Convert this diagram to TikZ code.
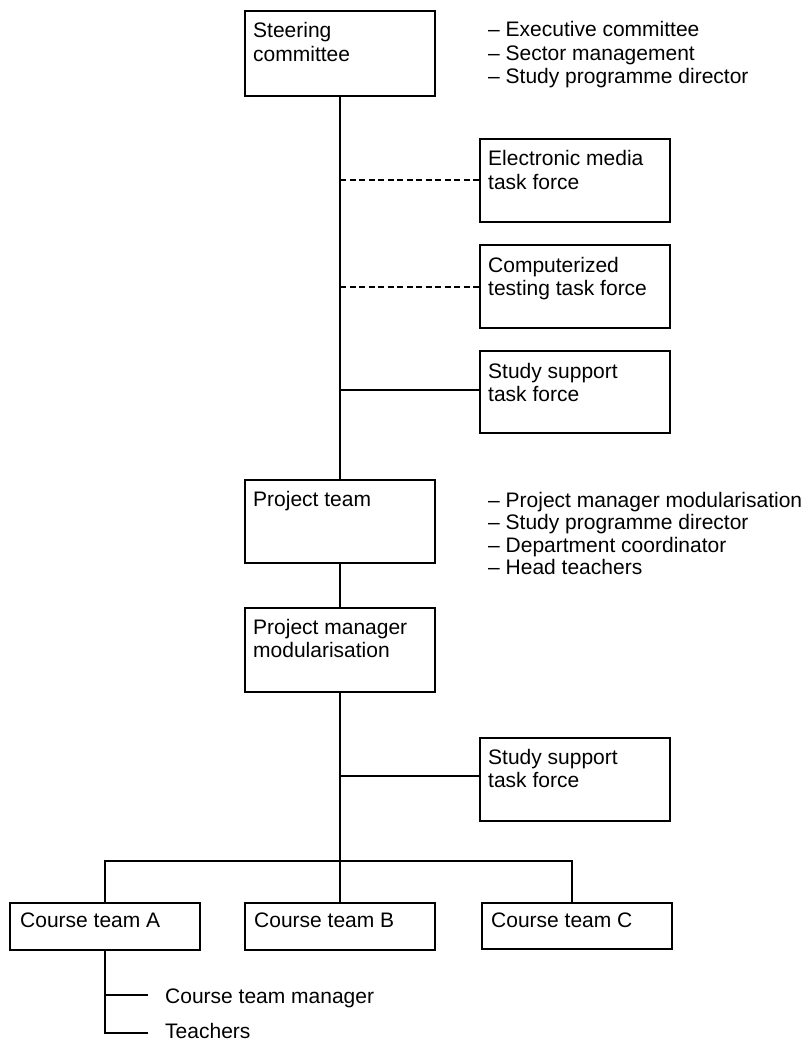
\documentclass[tikz,border=0pt]{standalone}
\usepackage{fontspec}
\setmainfont{Liberation Sans}
% stacked lines whose baseline is that of the first line
\newcommand\linesof[1]{\vtop{\halign{##\hfil\cr#1\crcr}}}
\begin{document}
\begin{tikzpicture}[x=1pt,y=-1pt,
  box/.style={draw, line width=2pt, inner sep=0pt, outer sep=0pt, anchor=north west},
  lbl/.style={anchor=base west, inner sep=0pt, font=\fontsize{21}{23.5}\selectfont},
  link/.style={line width=2pt},
  weak/.style={line width=2pt, dash pattern=on 6pt off 3.5pt}]
\useasboundingbox (0,0) rectangle (811,1051);

% organisation boxes
\node[box, minimum width=190pt, minimum height=85pt] (steer) at (245,11) {};
\node[box, minimum width=190pt, minimum height=83pt] (elec)  at (480,139) {};
\node[box, minimum width=190pt, minimum height=83pt] (comp)  at (480,245) {};
\node[box, minimum width=190pt, minimum height=82pt] (supA)  at (480,351) {};
\node[box, minimum width=190pt, minimum height=83pt] (pteam) at (245,480) {};
\node[box, minimum width=190pt, minimum height=84pt] (pman)  at (245,608) {};
\node[box, minimum width=190pt, minimum height=83pt] (supB)  at (480,738) {};
\node[box, minimum width=190pt, minimum height=47pt] (ctA)   at (10,903) {};
\node[box, minimum width=190pt, minimum height=47pt] (ctB)   at (245,903) {};
\node[box, minimum width=190pt, minimum height=46pt] (ctC)   at (482,903) {};

% box titles
\node[lbl] (steerT) at ([shift={(8,27)}]steer.north west) {\linesof{Steering\cr committee}};
\node[lbl] (elecT)  at ([shift={(8,27)}]elec.north west)  {\linesof{Electronic media\cr task force}};
\node[lbl] (compT)  at ([shift={(8,27)}]comp.north west)  {\linesof{Computerized\cr testing task force}};
\node[lbl] (supAT)  at ([shift={(8,27)}]supA.north west)  {\linesof{Study support\cr task force}};
\node[lbl] (pteamT) at ([shift={(8,26)}]pteam.north west) {Project team};
\node[lbl] (pmanT)  at ([shift={(8,26)}]pman.north west)  {\linesof{Project manager\cr modularisation}};
\node[lbl] (supBT)  at ([shift={(8,26)}]supB.north west)  {\linesof{Study support\cr task force}};
\node[lbl] (ctAT)   at ([shift={(10,24)}]ctA.north west)  {Course team A};
\node[lbl] (ctBT)   at ([shift={(9,24)}]ctB.north west)   {Course team B};
\node[lbl] (ctCT)   at ([shift={(9,24)}]ctC.north west)   {Course team C};

% membership lists
\node[lbl] (steerL) at (488,37)
  {\linesof{– Executive committee\cr – Sector management\cr – Study programme director}};
\node[lbl, font=\fontsize{21}{22.3}\selectfont] (pteamL) at (488,507.5)
  {\linesof{– Project manager modularisation\cr – Study programme director\cr
   – Department coordinator\cr – Head teachers}};

% course team A members
\node[lbl] (ctmT) at (165,1003) {Course team manager};
\node[lbl] (tchT) at (165,1038) {Teachers};
\coordinate (ctmEnd) at (148,995);
\coordinate (tchEnd) at (148,1033);

% attachment points
\coordinate (busR) at (572,861);
\coordinate (supAin) at ([yshift=2pt]supA.west);
\coordinate (supBin) at ([yshift=4pt]supB.west);

% main line of authority
\draw[link] (steer.south) -- (pteam.north);
\draw[link] (pteam.south) -- (pman.north);
\draw[link] (pman.south) -- (ctB.north);

% task forces
\draw[weak] (steer.south |- elec.west) -- (elec.west);
\draw[weak] (steer.south |- comp.west) -- (comp.west);
\draw[link] (steer.south |- supAin) -- (supAin);
\draw[link] (pman.south |- supBin) -- (supBin);

% course teams
\draw[link] (ctA.north) |- (busR) -- (busR |- ctC.north);

% course team A members
\draw[link] (ctA.south) |- (tchEnd);
\draw[link] (ctA.south |- ctmEnd) -- (ctmEnd);
\end{tikzpicture}
\end{document}
